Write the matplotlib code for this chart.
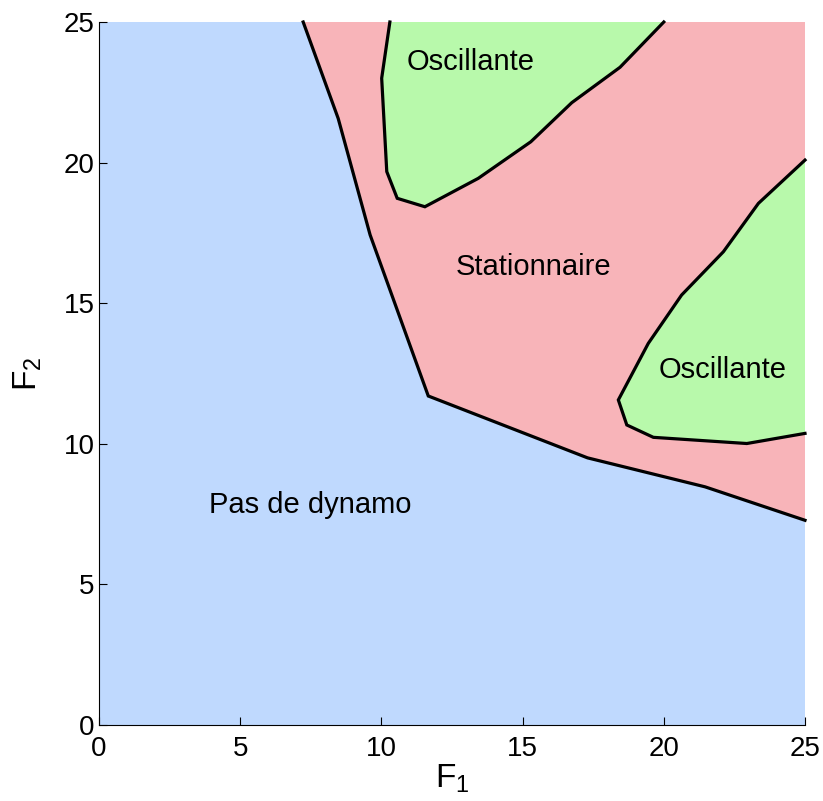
import numpy as np
from matplotlib import pyplot as plt

# boundary no-dynamo / stationary
b_x = [7.23, 8.47, 9.6, 11.66, 17.3, 21.46, 25.0]
b_y = [25.0, 21.57, 17.43, 11.7, 9.5, 8.47, 7.28]

# upper oscillating region (edge, open at top)
u_x = [10.3, 10.01, 10.19, 10.56, 11.54, 13.43, 15.29, 16.74, 18.45, 20.0]
u_y = [25.0, 23.0, 19.68, 18.73, 18.43, 19.44, 20.74, 22.13, 23.39, 25.0]

# right oscillating region (edge, open at right)
r_x = [25.0, 23.35, 22.11, 20.63, 19.45, 18.39, 18.69, 19.63, 22.94, 25.0]
r_y = [20.09, 18.55, 16.83, 15.29, 13.57, 11.56, 10.67, 10.23, 10.01, 10.37]

labels = ['Oscillante', 'Stationnaire', 'Oscillante', 'Pas de dynamo']
lab_x = [13.15, 15.37, 22.1, 7.47]
lab_y = [23.58, 16.29, 12.62, 7.82]

c_blue = '#bfd9fe'
c_red = '#f8b4b9'
c_green = '#b8f9ab'

plt.rcParams['font.family'] = ['Liberation Sans', 'DejaVu Sans']
plt.rcParams['mathtext.fontset'] = 'custom'
plt.rcParams['mathtext.rm'] = 'Liberation Sans'
plt.rcParams['mathtext.it'] = 'Liberation Sans'

fig = plt.figure(figsize=(8.23, 8.01), dpi=100)
ax = fig.add_axes([99/823, 76/801, 706/823, 703/801])

ax.fill(b_x + [25, 0, 0], b_y + [0, 0, 25], color=c_blue, lw=0)
ax.fill(b_x + [25], b_y + [25], color=c_red, lw=0)
ax.fill(u_x, u_y, color=c_green, lw=0)
ax.fill(r_x, r_y, color=c_green, lw=0)

for xs, ys in [(b_x, b_y), (u_x, u_y), (r_x, r_y)]:
	ax.plot(xs, ys, color='k', lw=2.3, solid_joinstyle='miter', clip_on=False)

for t, x, y in zip(labels, lab_x, lab_y):
	ax.text(x, y, t, ha='center', va='center', fontsize=21)

ax.set_xlim(0, 25)
ax.set_ylim(0, 25)
ax.set_xticks(np.arange(0, 26, 5))
ax.set_yticks(np.arange(0, 26, 5))
ax.tick_params(direction='in', length=6, width=0.8, labelsize=20, pad=3)
ax.tick_params(axis='x', pad=8)
ax.spines['top'].set_visible(False)
ax.spines['right'].set_visible(False)
ax.set_xlabel(r'$\mathregular{F_1}$', fontsize=24, labelpad=0)
ax.set_ylabel(r'$\mathregular{F_2}$', fontsize=24, labelpad=14)

fig.savefig('out.png', dpi=100)
